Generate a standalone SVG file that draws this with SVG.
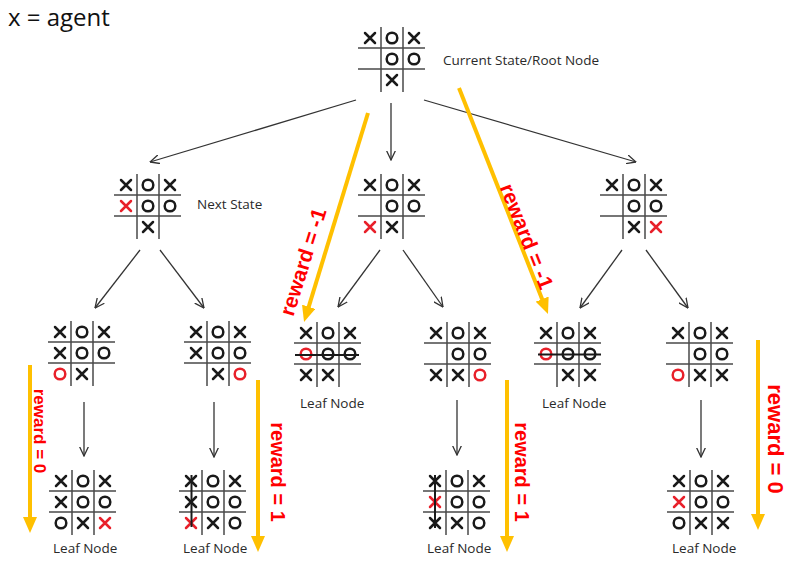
<svg xmlns="http://www.w3.org/2000/svg" xmlns:xlink="http://www.w3.org/1999/xlink" width="795" height="577" viewBox="0 0 795 577">
<style>
.k{stroke:#1a1a1a;fill:none;stroke-width:2.5;stroke-linecap:round}
.r{stroke:#e8202a;fill:none;stroke-width:2.5;stroke-linecap:round}
.gl{stroke:#4a4a4a;stroke-width:1.5;fill:none}
.st{stroke:#1a1a1a;stroke-width:2;fill:none}
.lbl{font-family:"Open Sans","Liberation Sans",sans-serif;font-size:13.5px;fill:#2a2a2a}
.rw{font-family:"Liberation Sans",Arial,sans-serif;font-weight:bold;fill:#ff0000;text-anchor:middle}
.ar{stroke:#333;stroke-width:1.3;fill:none;marker-end:url(#ah)}
.or{stroke:#ffc000;stroke-width:4;fill:none;marker-end:url(#oh)}
</style>
<defs>
<g id="grid" class="gl"><path d="M0,-21V44M22,-21V44M-23,0H44M-23,21H44"/></g>
<path id="X" d="M-5,-5L5,5M5,-5L-5,5"/>
<circle id="O" r="5.3"/>
<marker id="ah" viewBox="0 0 10 10" refX="9.5" refY="5" markerWidth="10" markerHeight="10" markerUnits="userSpaceOnUse" orient="auto"><path d="M0,0.5L9.5,5L0,9.5" fill="none" stroke="#333" stroke-width="1.3"/></marker>
<marker id="oh" viewBox="0 0 16 14" refX="10" refY="7" markerWidth="16" markerHeight="14" markerUnits="userSpaceOnUse" orient="auto"><path d="M0,0L16,7L0,14z" fill="#ffc000"/></marker>
</defs>
<rect width="795" height="577" fill="#ffffff"/>
<text x="8" y="26" font-family="Open Sans, Liberation Sans, sans-serif" font-size="24" fill="#111">x = agent</text>

<g id="connectors">
<line class="ar" x1="356" y1="100" x2="150" y2="162"/>
<line class="ar" x1="391" y1="103" x2="391" y2="160"/>
<line class="ar" x1="424" y1="100" x2="636" y2="162"/>
<line class="ar" x1="140" y1="250" x2="95" y2="308"/>
<line class="ar" x1="160" y1="250" x2="204" y2="308"/>
<line class="ar" x1="380" y1="250" x2="338" y2="307"/>
<line class="ar" x1="403" y1="250" x2="443" y2="307"/>
<line class="ar" x1="622" y1="250" x2="580" y2="308"/>
<line class="ar" x1="646" y1="250" x2="688" y2="308"/>
<line class="ar" x1="84" y1="402" x2="84" y2="456"/>
<line class="ar" x1="214" y1="402" x2="214" y2="457"/>
<line class="ar" x1="457" y1="400" x2="457" y2="455"/>
<line class="ar" x1="701" y1="400" x2="701" y2="457"/>
<line class="or" x1="368" y1="113" x2="305.8" y2="316.3"/>
<line class="or" x1="459" y1="88" x2="545.8" y2="308.4"/>
<line class="or" x1="30" y1="365" x2="30" y2="527"/>
<line class="or" x1="258" y1="380" x2="258" y2="546"/>
<line class="or" x1="507" y1="380" x2="507" y2="546"/>
<line class="or" x1="758" y1="340" x2="758" y2="524"/>
<text class="rw" font-size="21" transform="translate(310,264) rotate(-72.6)">reward = -1</text>
<text class="rw" font-size="21" transform="translate(520,239) rotate(68.5)">reward = -1</text>
<text class="rw" font-size="17" transform="translate(34,431) rotate(90)">reward = 0</text>
<text class="rw" font-size="20" transform="translate(271,472) rotate(90)">reward = 1</text>
<text class="rw" font-size="20" transform="translate(515,472) rotate(90)">reward = 1</text>
<text class="rw" font-size="22" transform="translate(768,439) rotate(90)">reward = 0</text>
</g>

<g id="root" transform="translate(381,48)">
<use href="#grid"/>
<use href="#X" class="k" x="-11" y="-10"/><use href="#O" class="k" x="11" y="-10"/><use href="#X" class="k" x="33" y="-10"/>
<use href="#O" class="k" x="11" y="11"/><use href="#O" class="k" x="33" y="11"/>
<use href="#X" class="k" x="11" y="32"/>
</g>
<text class="lbl" x="443" y="65">Current State/Root Node</text>

<g id="next-a" transform="translate(137,195)">
<use href="#grid"/>
<use href="#X" class="k" x="-11" y="-10"/><use href="#O" class="k" x="11" y="-10"/><use href="#X" class="k" x="33" y="-10"/>
<use href="#X" class="r" x="-11" y="11"/><use href="#O" class="k" x="11" y="11"/><use href="#O" class="k" x="33" y="11"/>
<use href="#X" class="k" x="11" y="32"/>
</g>
<text class="lbl" x="197" y="209">Next State</text>

<g id="next-b" transform="translate(381,195)">
<use href="#grid"/>
<use href="#X" class="k" x="-11" y="-10"/><use href="#O" class="k" x="11" y="-10"/><use href="#X" class="k" x="33" y="-10"/>
<use href="#O" class="k" x="11" y="11"/><use href="#O" class="k" x="33" y="11"/>
<use href="#X" class="r" x="-11" y="32"/><use href="#X" class="k" x="11" y="32"/>
</g>

<g id="next-c" transform="translate(623,195)">
<use href="#grid"/>
<use href="#X" class="k" x="-11" y="-10"/><use href="#O" class="k" x="11" y="-10"/><use href="#X" class="k" x="33" y="-10"/>
<use href="#O" class="k" x="11" y="11"/><use href="#O" class="k" x="33" y="11"/>
<use href="#X" class="k" x="11" y="32"/><use href="#X" class="r" x="33" y="32"/>
</g>

<g id="l2-a" transform="translate(71,342)">
<use href="#grid"/>
<use href="#X" class="k" x="-11" y="-10"/><use href="#O" class="k" x="11" y="-10"/><use href="#X" class="k" x="33" y="-10"/>
<use href="#X" class="k" x="-11" y="11"/><use href="#O" class="k" x="11" y="11"/><use href="#O" class="k" x="33" y="11"/>
<use href="#O" class="r" x="-11" y="32"/><use href="#X" class="k" x="11" y="32"/>
</g>

<g id="l2-b" transform="translate(207,342)">
<use href="#grid"/>
<use href="#X" class="k" x="-11" y="-10"/><use href="#O" class="k" x="11" y="-10"/><use href="#X" class="k" x="33" y="-10"/>
<use href="#X" class="k" x="-11" y="11"/><use href="#O" class="k" x="11" y="11"/><use href="#O" class="k" x="33" y="11"/>
<use href="#X" class="k" x="11" y="32"/><use href="#O" class="r" x="33" y="32"/>
</g>

<g id="l2-c" transform="translate(317,343)">
<use href="#grid"/>
<use href="#X" class="k" x="-11" y="-10"/><use href="#O" class="k" x="11" y="-10"/><use href="#X" class="k" x="33" y="-10"/>
<use href="#O" class="r" x="-11" y="11"/><use href="#O" class="k" x="11" y="11"/><use href="#O" class="k" x="33" y="11"/>
<use href="#X" class="k" x="-11" y="32"/><use href="#X" class="k" x="11" y="32"/>
<path class="st" d="M-22,12H42"/>
</g>
<text class="lbl" x="300" y="408">Leaf Node</text>

<g id="l2-d" transform="translate(447,343)">
<use href="#grid"/>
<use href="#X" class="k" x="-11" y="-10"/><use href="#O" class="k" x="11" y="-10"/><use href="#X" class="k" x="33" y="-10"/>
<use href="#O" class="k" x="11" y="11"/><use href="#O" class="k" x="33" y="11"/>
<use href="#X" class="k" x="-11" y="32"/><use href="#X" class="k" x="11" y="32"/><use href="#O" class="r" x="33" y="32"/>
</g>

<g id="l2-e" transform="translate(557,343)">
<use href="#grid"/>
<use href="#X" class="k" x="-11" y="-10"/><use href="#O" class="k" x="11" y="-10"/><use href="#X" class="k" x="33" y="-10"/>
<use href="#O" class="r" x="-11" y="11"/><use href="#O" class="k" x="11" y="11"/><use href="#O" class="k" x="33" y="11"/>
<use href="#X" class="k" x="11" y="32"/><use href="#X" class="k" x="33" y="32"/>
<path class="st" d="M-19,11.5H44"/>
</g>
<text class="lbl" x="542" y="408">Leaf Node</text>

<g id="l2-f" transform="translate(689,343)">
<use href="#grid"/>
<use href="#X" class="k" x="-11" y="-10"/><use href="#O" class="k" x="11" y="-10"/><use href="#X" class="k" x="33" y="-10"/>
<use href="#O" class="k" x="11" y="11"/><use href="#O" class="k" x="33" y="11"/>
<use href="#O" class="r" x="-11" y="32"/><use href="#X" class="k" x="11" y="32"/><use href="#X" class="k" x="33" y="32"/>
</g>

<g id="l3-g" transform="translate(72,491)">
<use href="#grid"/>
<use href="#X" class="k" x="-11" y="-10"/><use href="#O" class="k" x="11" y="-10"/><use href="#X" class="k" x="33" y="-10"/>
<use href="#X" class="k" x="-11" y="11"/><use href="#O" class="k" x="11" y="11"/><use href="#O" class="k" x="33" y="11"/>
<use href="#O" class="k" x="-11" y="32"/><use href="#X" class="k" x="11" y="32"/><use href="#X" class="r" x="33" y="32"/>
</g>
<text class="lbl" x="53" y="553">Leaf Node</text>

<g id="l3-h" transform="translate(202,491)">
<use href="#grid"/>
<use href="#X" class="k" x="-11" y="-10"/><use href="#O" class="k" x="11" y="-10"/><use href="#X" class="k" x="33" y="-10"/>
<use href="#X" class="k" x="-11" y="11"/><use href="#O" class="k" x="11" y="11"/><use href="#O" class="k" x="33" y="11"/>
<use href="#X" class="r" x="-11" y="32"/><use href="#X" class="k" x="11" y="32"/><use href="#O" class="k" x="33" y="32"/>
<path class="st" d="M-10.5,-16V36"/>
</g>
<text class="lbl" x="183" y="553">Leaf Node</text>

<g id="l3-i" transform="translate(446,491)">
<use href="#grid"/>
<use href="#X" class="k" x="-11" y="-10"/><use href="#O" class="k" x="11" y="-10"/><use href="#X" class="k" x="33" y="-10"/>
<use href="#X" class="r" x="-11" y="11"/><use href="#O" class="k" x="11" y="11"/><use href="#O" class="k" x="33" y="11"/>
<use href="#X" class="k" x="-11" y="32"/><use href="#X" class="k" x="11" y="32"/><use href="#O" class="k" x="33" y="32"/>
<path class="st" d="M-11,-16V37"/>
</g>
<text class="lbl" x="427" y="553">Leaf Node</text>

<g id="l3-j" transform="translate(690,491)">
<use href="#grid"/>
<use href="#X" class="k" x="-11" y="-10"/><use href="#O" class="k" x="11" y="-10"/><use href="#X" class="k" x="33" y="-10"/>
<use href="#X" class="r" x="-11" y="11"/><use href="#O" class="k" x="11" y="11"/><use href="#O" class="k" x="33" y="11"/>
<use href="#O" class="k" x="-11" y="32"/><use href="#X" class="k" x="11" y="32"/><use href="#X" class="k" x="33" y="32"/>
</g>
<text class="lbl" x="672" y="553">Leaf Node</text>
</svg>
